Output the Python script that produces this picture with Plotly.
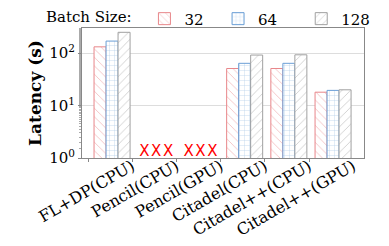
import plotly.graph_objects as go

categories = ["FL+DP(CPU)", "Pencil(CPU)", "Pencil(GPU)", "Citadel(CPU)", "Citadel++(CPU)", "Citadel++(GPU)"]
batch_sizes = ["32", "64", "128"]
lat_32 = [132, None, None, 51, 51, 18]
lat_64 = [170, None, None, 64, 64, 19.5]
lat_128 = [250, None, None, 92, 93, 20]
failed = [False, True, True, False, False, False]
ytick_vals = [1, 10, 100]
ytick_text = ["10<sup>0</sup>", "10<sup>1</sup>", "10<sup>2</sup>"]

series = [lat_32, lat_64, lat_128]
colors = ["#e8868a", "#6b9fd6", "#a0a0a0"]
shapes = ["\\", "+", "/"]
legend_pad = [2, 4, 0]  # non-breaking spaces after each legend label

FONT = "DejaVu Serif"
x = list(range(len(categories)))
fig = go.Figure()
for name, vals, col, shp, pad in zip(batch_sizes, series, colors, shapes, legend_pad):
    fig.add_trace(go.Bar(
        x=x, y=vals, name=name + "\u00a0" * pad,
        marker=dict(color="white", line=dict(color=col, width=1),
                    pattern=dict(shape=shp, fgcolor=col, bgcolor="white",
                                 size=5 if shp == "+" else 6, solidity=0.15)),
    ))

# red X markers for failed systems
bar_offsets = [-0.27, 0.0, 0.27]
xs, ys = [], []
for i, f in enumerate(failed):
    if f:
        for o in bar_offsets:
            xs.append(i + o)
            ys.append(1.3)
fig.add_trace(go.Scatter(x=xs, y=ys, mode="text", text=["X"] * len(xs),
                         textfont=dict(color="red", size=15, family="DejaVu Sans"),
                         showlegend=False, hoverinfo="skip"))

fig.add_trace(go.Scatter(x=[0], y=[1], xaxis="x2", mode="markers",
                         marker=dict(opacity=0), showlegend=False, hoverinfo="skip"))

fig.update_layout(
    width=389, height=246,
    margin=dict(l=82, r=25, t=28, b=88, autoexpand=False),
    paper_bgcolor="white", plot_bgcolor="white",
    barmode="group", bargap=0.185, bargroupgap=0,
    font=dict(family=FONT, size=15, color="black"),
    legend=dict(orientation="h", x=-0.135, xanchor="left", y=1.07, yanchor="middle",
                title=dict(text="Batch Size: ", font=dict(size=15)),
                font=dict(size=15), itemwidth=30,
                tracegroupgap=0, bgcolor="rgba(0,0,0,0)"),
    xaxis=dict(range=[-0.68, 5.7], tickvals=[i + 0.45 for i in x], ticktext=categories,
               tickangle=-30, ticks="", ticklabelstandoff=-8, showgrid=False, zeroline=False,
               showline=True, linecolor="#888", mirror=True,
               tickfont=dict(size=16)),
    xaxis2=dict(range=[-0.68, 5.7], overlaying="x", side="bottom", anchor="y",
                tickvals=[i - 0.54 for i in x], showticklabels=False,
                ticks="outside", ticklen=3, tickcolor="#888", showgrid=False,
                zeroline=False, showline=False),
    yaxis=dict(type="log", range=[0, 2.48], tickvals=ytick_vals, ticktext=ytick_text,
               ticks="outside", ticklen=3, tickcolor="#888",
               minor=dict(ticks="outside", ticklen=2, tickcolor="#aaa", showgrid=False),
               showgrid=True, gridcolor="#dddddd", gridwidth=1,
               showline=True, linecolor="#888", mirror=True,
               title=dict(text="<b>Latency (s)</b>", font=dict(size=17), standoff=3),
               tickfont=dict(size=15)),
)
fig.write_html("out.html", config={"displayModeBar": False},
               post_script="document.body.style.margin='0';")
